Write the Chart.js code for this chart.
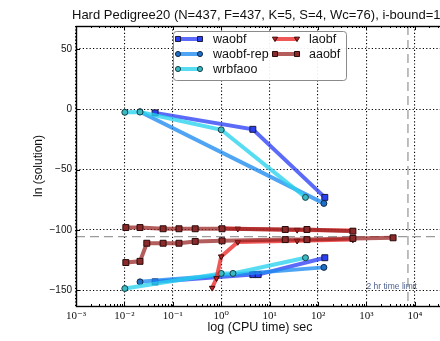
<!DOCTYPE html>
<html>
<head>
<meta charset="utf-8">
<script src="https://cdn.jsdelivr.net/npm/chart.js@4.4.0/dist/chart.umd.min.js"></script>
<style>
  html, body { margin: 0; padding: 0; background: #fff; overflow: hidden; }
  #wrap { width: 440px; height: 341px; overflow: hidden; }
  canvas { display: block; }
</style>
</head>
<body>
<div id="wrap"><canvas id="c" width="460" height="341" style="width:460px;height:341px"></canvas></div>
<script>
// CPU time (sec) and ln(solution) for each algorithm: upper curve and lower curve
const waobfUpperTime = [0.043, 4.5, 138];
const waobfUpperValue = [-3, -16.6, -73];
const waobfLowerTime = [0.043, 4.5, 5.8, 138];
const waobfLowerValue = [-143, -137, -137, -123];

const waobfRepUpperTime = [0.021, 132];
const waobfRepUpperValue = [-2, -78];
const waobfRepLowerTime = [0.021, 132];
const waobfRepLowerValue = [-143, -131];

const wrbfaooUpperTime = [0.0102, 0.021, 1.0, 55];
const wrbfaooUpperValue = [-2.5, -2.3, -17, -73];
const wrbfaooLowerTime = [0.0102, 1.0, 1.75, 55];
const wrbfaooLowerValue = [-148.5, -136, -136, -123];

const laobfUpperTime = [1.0, 2.2, 37, 525];
const laobfUpperValue = [-98.5, -99, -100, -100.5];
const laobfLowerTime = [0.65, 0.8, 1.0, 2.2, 37, 525];
const laobfLowerValue = [-148, -140, -122, -110, -109, -108];

const aaobfUpperTime = [0.0107, 0.021, 0.063, 0.134, 0.29, 1.04, 21, 59, 525];
const aaobfUpperValue = [-98, -98, -99, -99, -99, -99, -99.6, -99.6, -101];
const aaobfLowerTime = [0.0107, 0.021, 0.029, 0.063, 0.134, 0.29, 1.04, 21, 59, 525, 3550];
const aaobfLowerValue = [-127, -126, -111, -111, -111, -109.5, -109, -108, -108, -107, -106.5];

const referenceValue = -105.5;   // dashed horizontal reference
const timeLimit = 7200;          // 2 hr time limit (sec)
const timeLimitLabel = '2 hr time limit';

const xTickDecades = [-3, -2, -1, 0, 1, 2, 3, 4];
const yTickValues = [-150, -100, -50, 0, 50];

const titleText = 'Hard Pedigree20 (N=437, F=437, K=5, S=4, Wc=76), i-bound=10)';
const xAxisTitle = 'log (CPU time) sec';
const yAxisTitle = 'ln (solution)';

const algorithms = [
  { name: 'waobf',     line: 'rgba(45,65,245,0.78)',  fill: '#2a3ff0', edge: '#1a1a40', style: 'rect',     r: 4.2,
    upper: [waobfUpperTime, waobfUpperValue], lower: [waobfLowerTime, waobfLowerValue] },
  { name: 'waobf-rep', line: 'rgba(30,140,240,0.78)', fill: '#1d6fc8', edge: '#10284a', style: 'circle',   r: 3,
    upper: [waobfRepUpperTime, waobfRepUpperValue], lower: [waobfRepLowerTime, waobfRepLowerValue] },
  { name: 'wrbfaoo',   line: 'rgba(40,210,238,0.78)', fill: '#3bb8c0', edge: '#124048', style: 'circle',   r: 3,
    upper: [wrbfaooUpperTime, wrbfaooUpperValue], lower: [wrbfaooLowerTime, wrbfaooLowerValue] },
  { name: 'laobf',     line: 'rgba(236,40,40,0.78)',  fill: '#c42020', edge: '#3a0a0a', style: 'triangle', r: 3.2,
    upper: [laobfUpperTime, laobfUpperValue], lower: [laobfLowerTime, laobfLowerValue] },
  { name: 'aaobf',     line: 'rgba(150,30,30,0.72)',  fill: '#8a2a2a', edge: '#2a0a0a', style: 'rect',     r: 4.2,
    upper: [aaobfUpperTime, aaobfUpperValue], lower: [aaobfLowerTime, aaobfLowerValue] }
];

function toPoints(pair) {
  return pair[0].map((t, i) => ({ x: t, y: pair[1][i] }));
}

const datasets = [];
algorithms.forEach((alg, k) => {
  ['upper', 'lower'].forEach(part => {
    datasets.push({
      label: alg.name + ' ' + part,
      data: toPoints(alg[part]),
      borderColor: alg.line,
      backgroundColor: alg.fill,
      borderWidth: 4,
      pointStyle: alg.style,
      pointRotation: alg.style === 'triangle' ? 180 : 0,
      pointRadius: alg.r,
      pointHoverRadius: alg.r,
      pointBackgroundColor: alg.fill,
      pointBorderColor: alg.edge,
      pointBorderWidth: 1,
      tension: 0,
      order: algorithms.length - k
    });
  });
});

function isDecade(v) {
  const l = Math.log10(v);
  return Math.abs(l - Math.round(l)) < 1e-9;
}

const superDigits = { '-': '\u207B', '0': '\u2070', '1': '\u00B9', '2': '\u00B2', '3': '\u00B3', '4': '\u2074',
  '5': '\u2075', '6': '\u2076', '7': '\u2077', '8': '\u2078', '9': '\u2079' };
function powerLabel(e) {
  return '10' + String(e).split('').map(c => superDigits[c]).join('');
}

function drawMarker(ctx, style, x, y, r, fill, edge) {
  ctx.save();
  ctx.fillStyle = fill; ctx.strokeStyle = edge; ctx.lineWidth = 1; ctx.setLineDash([]);
  ctx.beginPath();
  if (style === 'rect') {
    const s = r * Math.SQRT1_2;
    ctx.rect(x - s, y - s, 2 * s, 2 * s);
  } else if (style === 'triangle') {
    const h = r * 1.5;
    ctx.moveTo(x - r * 0.95, y - h / 2.2);
    ctx.lineTo(x + r * 0.95, y - h / 2.2);
    ctx.lineTo(x, y + h / 1.6);
    ctx.closePath();
  } else {
    ctx.arc(x, y, r, 0, Math.PI * 2);
  }
  ctx.fill(); ctx.stroke();
  ctx.restore();
}

const decorations = {
  id: 'decorations',
  beforeDatasetsDraw(chart) {
    const { ctx, chartArea: a, scales: { x, y } } = chart;
    ctx.save();
    ctx.beginPath(); ctx.rect(a.left, a.top, a.right - a.left, a.bottom - a.top); ctx.clip();
    ctx.strokeStyle = '#9c9c9c'; ctx.lineWidth = 1.3; ctx.setLineDash([9, 5]);
    const yr = y.getPixelForValue(referenceValue);
    ctx.beginPath(); ctx.moveTo(a.left, yr); ctx.lineTo(a.right, yr); ctx.stroke();
    const xr = x.getPixelForValue(timeLimit);
    ctx.beginPath(); ctx.moveTo(xr, a.top); ctx.lineTo(xr, a.bottom); ctx.stroke();
    ctx.restore();
  },
  afterDatasetsDraw(chart) {
    const { ctx, chartArea: a, scales: { x, y } } = chart;
    ctx.save();
    // inward tick marks on all four sides
    ctx.strokeStyle = '#000'; ctx.lineWidth = 1; ctx.setLineDash([]);
    x.ticks.forEach(t => {
      const px = Math.round(x.getPixelForValue(t.value)) + 0.5;
      const len = isDecade(t.value) ? 4 : 2;
      ctx.beginPath();
      ctx.moveTo(px, a.bottom); ctx.lineTo(px, a.bottom - len);
      ctx.moveTo(px, a.top); ctx.lineTo(px, a.top + len);
      ctx.stroke();
    });
    y.ticks.forEach(t => {
      const py = Math.round(y.getPixelForValue(t.value)) + 0.5;
      ctx.beginPath();
      ctx.moveTo(a.left, py); ctx.lineTo(a.left + 4, py);
      ctx.moveTo(a.right, py); ctx.lineTo(a.right - 4, py);
      ctx.stroke();
    });
    // frame
    ctx.lineWidth = 1.4;
    ctx.strokeRect(Math.round(a.left) + 0.5, Math.round(a.top) + 0.5, Math.round(a.right - a.left), Math.round(a.bottom - a.top));

    // time limit note
    ctx.fillStyle = '#4c5f8c';
    ctx.font = '8.5px "Liberation Sans", Arial, sans-serif';
    ctx.textAlign = 'left'; ctx.textBaseline = 'middle';
    ctx.fillText(timeLimitLabel, x.getPixelForValue(1000), y.getPixelForValue(-147));

    // legend
    const bx = 173.5, by = 31.5, bw = 173, bh = 49;
    ctx.fillStyle = 'rgba(255,255,255,0.92)';
    ctx.strokeStyle = '#8a8a8a'; ctx.lineWidth = 1;
    ctx.beginPath();
    if (ctx.roundRect) ctx.roundRect(bx, by, bw, bh, 3); else ctx.rect(bx, by, bw, bh);
    ctx.fill(); ctx.stroke();
    const cols = [{ x0: 178, x1: 200, tx: 213 }, { x0: 275, x1: 297, tx: 309 }];
    const rows = [39, 54, 69];
    ctx.font = '12.5px "Liberation Sans", Arial, sans-serif';
    ctx.textBaseline = 'middle'; ctx.textAlign = 'left';
    algorithms.forEach((alg, i) => {
      const c = cols[i < 3 ? 0 : 1];
      const ry = rows[i < 3 ? i : i - 3];
      ctx.strokeStyle = alg.line; ctx.lineWidth = 4;
      ctx.beginPath(); ctx.moveTo(c.x0, ry); ctx.lineTo(c.x1, ry); ctx.stroke();
      drawMarker(ctx, alg.style, c.x0, ry, alg.r * 0.85, alg.fill, alg.edge);
      drawMarker(ctx, alg.style, c.x1, ry, alg.r * 0.85, alg.fill, alg.edge);
      ctx.fillStyle = '#111';
      ctx.fillText(alg.name, c.tx, ry + 0.5);
    });
    ctx.restore();
  },
  afterDraw(chart) {
    const { ctx } = chart;
    ctx.save();
    ctx.fillStyle = '#111';
    ctx.font = '13px "Liberation Sans", Arial, sans-serif';
    ctx.textAlign = 'left'; ctx.textBaseline = 'middle';
    ctx.fillText(titleText, 72, 15);
    ctx.restore();
  }
};

new Chart(document.getElementById('c'), {
  type: 'line',
  data: { datasets },
  plugins: [decorations],
  options: {
    responsive: false,
    devicePixelRatio: 1,
    animation: false,
    events: [],
    layout: { padding: { top: 26, right: 16, bottom: 0, left: 0 } },
    plugins: { legend: { display: false }, tooltip: { enabled: false }, title: { display: false } },
    scales: {
      x: {
        type: 'logarithmic',
        min: 1e-3,
        max: 4e4,
        afterBuildTicks(scale) {
          const ticks = [];
          xTickDecades.concat([5]).forEach(e => {
            for (let m = 1; m <= 9; m++) {
              const v = m * Math.pow(10, e);
              if (v >= scale.min * 0.999 && v <= scale.max * 1.001) ticks.push({ value: v });
            }
          });
          scale.ticks = ticks;
        },
        afterFit(scale) { scale.height = 35; },
        ticks: {
          autoSkip: false, maxRotation: 0, padding: 4, color: '#111',
          font: { family: '"Liberation Serif", "DejaVu Serif", serif', size: 11 },
          callback(v) {
            if (!isDecade(v)) return '';
            const e = Math.round(Math.log10(v));
            return xTickDecades.includes(e) ? powerLabel(e) : '';
          }
        },
        grid: {
          drawTicks: false,
          lineWidth: 1.1,
          color: ctx => (ctx.tick && isDecade(ctx.tick.value)) ? '#000' : 'rgba(0,0,0,0)'
        },
        border: { display: false, dash: [1.2, 2.2] },
        title: {
          display: true, text: xAxisTitle, color: '#111',
          font: { family: '"Liberation Sans", Arial, sans-serif', size: 12.5 },
          padding: { top: 0, bottom: 6 }
        }
      },
      y: {
        type: 'linear',
        min: -163,
        max: 69,
        afterBuildTicks(scale) { scale.ticks = yTickValues.map(v => ({ value: v })); },
        afterFit(scale) { scale.width = 76; },
        ticks: {
          padding: 4, color: '#111',
          font: { family: '"Liberation Sans", Arial, sans-serif', size: 10 },
          callback(v) { return v < 0 ? '\u2212' + Math.abs(v) : String(v); }
        },
        grid: { drawTicks: false, lineWidth: 1.1, color: '#000' },
        border: { display: false, dash: [1.2, 2.2] },
        title: {
          display: true, text: yAxisTitle, color: '#111',
          font: { family: '"Liberation Sans", Arial, sans-serif', size: 12 },
          padding: { top: 31, bottom: 0 }
        }
      }
    }
  }
});
</script>
</body>
</html>
